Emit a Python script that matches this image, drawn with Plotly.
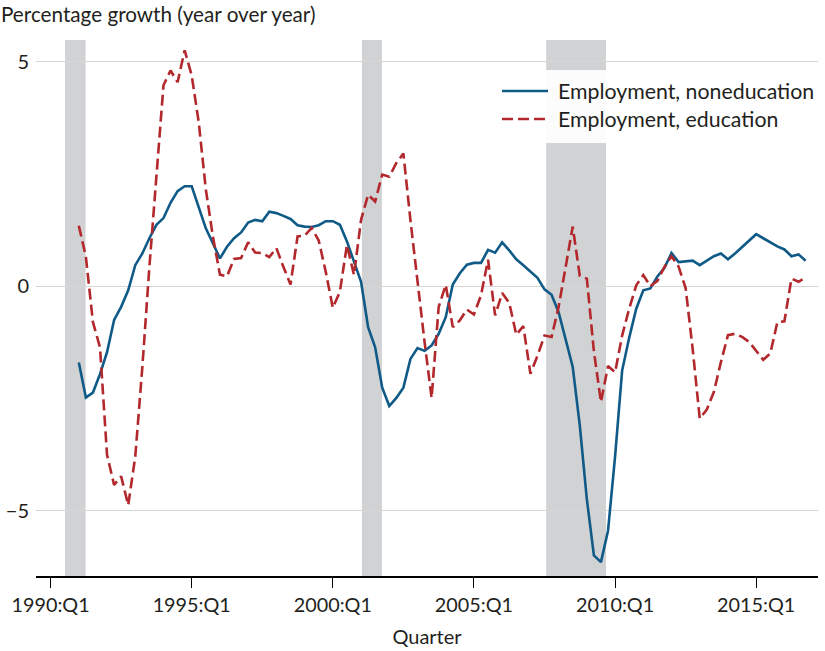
import plotly.graph_objects as go

# Quarters 1991:Q1 .. 2016:Q4
start_year = 1991
n_quarters = 104
quarter_labels = [f"{start_year + k // 4}:Q{k % 4 + 1}" for k in range(n_quarters)]

noneducation = [
    -1.70, -2.48, -2.37, -1.96, -1.47, -0.75, -0.46, -0.09,
    0.47, 0.73, 1.07, 1.37, 1.52, 1.86, 2.12, 2.23,
    2.23, 1.78, 1.29, 0.96, 0.62, 0.88, 1.07, 1.20,
    1.42, 1.48, 1.45, 1.66, 1.63, 1.57, 1.50, 1.36,
    1.33, 1.32, 1.36, 1.45, 1.45, 1.37, 1.00, 0.55,
    0.10, -0.91, -1.36, -2.26, -2.67, -2.49, -2.26, -1.62,
    -1.38, -1.44, -1.32, -1.06, -0.69, 0.04, 0.29, 0.48,
    0.52, 0.52, 0.81, 0.75, 0.98, 0.80, 0.60, 0.47,
    0.33, 0.19, -0.07, -0.19, -0.58, -1.20, -1.80, -3.10,
    -4.75, -6.00, -6.15, -5.45, -3.80, -1.88, -1.15, -0.50,
    -0.09, -0.05, 0.22, 0.41, 0.74, 0.54, 0.56, 0.57,
    0.47, 0.58, 0.67, 0.73, 0.60, 0.73, 0.88, 1.03,
    1.16, 1.07, 0.98, 0.89, 0.82, 0.67, 0.71, 0.57,
]

education = [
    1.35, 0.66, -0.80, -1.36, -3.76, -4.43, -4.24, -4.88,
    -3.80, -1.81, 0.43, 2.38, 4.48, 4.81, 4.55, 5.26,
    4.70, 3.65, 2.16, 1.11, 0.26, 0.22, 0.61, 0.63,
    0.98, 0.75, 0.74, 0.65, 0.85, 0.43, 0.04, 1.11,
    1.13, 1.30, 1.02, 0.32, -0.48, -0.12, 0.92, 0.25,
    1.48, 2.04, 1.89, 2.49, 2.44, 2.75, 2.96, 1.47,
    0.08, -1.24, -2.49, -0.46, 0.03, -0.91, -0.76, -0.52,
    -0.63, -0.20, 0.59, -0.65, -0.15, -0.37, -1.08, -0.89,
    -1.95, -1.55, -1.10, -1.13, -0.46, 0.43, 1.33, 0.23,
    0.17, -1.45, -2.58, -1.78, -1.92, -1.10, -0.50, 0.02,
    0.25, 0.00, 0.12, 0.43, 0.67, 0.44, -0.04, -1.40,
    -2.95, -2.75, -2.36, -1.69, -1.09, -1.06, -1.13, -1.24,
    -1.43, -1.64, -1.50, -0.80, -0.78, 0.17, 0.10, 0.19,
]

recessions = [(1990.51, 1991.24), (2001.03, 2001.74), (2007.56, 2009.68)]
tick_years = [1990, 1995, 2000, 2005, 2010, 2015]
tick_labels = [f"{y}:Q1" for y in tick_years]
series_names = ["Employment, noneducation", "Employment, education"]

BLUE = "#0f5a87"
RED = "#b3282d"
FONT = "Lato"
TXT = "#231f20"
DASH = "11px,5px"


def qpos(label):
    y, q = label.split(":Q")
    return int(y) + (int(q) - 1) / 4


x = [qpos(q) for q in quarter_labels]

fig = go.Figure()
fig.add_trace(go.Scatter(x=x, y=noneducation, mode="lines", name=series_names[0],
                         line=dict(color=BLUE, width=2.6), showlegend=False, hoverinfo="skip"))
fig.add_trace(go.Scatter(x=x, y=education, mode="lines", name=series_names[1],
                         line=dict(color=RED, width=2.6, dash=DASH), showlegend=False, hoverinfo="skip"))

shapes = []
for a, b in recessions:
    shapes.append(dict(type="rect", xref="x", yref="paper", x0=a, x1=b, y0=0, y1=1,
                       fillcolor="#d1d2d4", line=dict(width=0), layer="between"))

# legend box and samples
W, H = 825, 651
ml, mr, mt, mb = 36, 7, 40, 75
pw, ph = W - ml - mr, H - mt - mb


def px_x(px):
    return (px - ml) / pw


def px_y(py):
    return 1 - (py - mt) / ph


shapes.append(dict(type="rect", xref="paper", yref="paper", x0=px_x(494), x1=px_x(822),
                   y0=px_y(143), y1=px_y(70), fillcolor="rgba(255,255,255,0.92)",
                   line=dict(width=0), layer="between"))
annotations = []
for i, (nm, col, dash) in enumerate([(series_names[0], BLUE, "solid"), (series_names[1], RED, DASH)]):
    yy = 91 + i * 28
    shapes.append(dict(type="line", xref="paper", yref="paper", x0=px_x(502), x1=px_x(548),
                       y0=px_y(yy), y1=px_y(yy), line=dict(color=col, width=2.6, dash=dash), layer="above"))
    annotations.append(dict(xref="paper", yref="paper", x=px_x(556), y=px_y(yy), text=nm,
                            showarrow=False, xanchor="left", yanchor="middle",
                            font=dict(family=FONT, size=21.3, color=TXT)))

fig.update_layout(
    width=W, height=H,
    margin=dict(l=ml, r=mr, t=mt, b=mb, autoexpand=False),
    paper_bgcolor="white", plot_bgcolor="white",
    shapes=shapes, annotations=annotations,
    title=dict(text="Percentage growth (year over year)", x=1 / W, xanchor="left",
               y=1 - 15 / H, yanchor="middle", xref="container", yref="container",
               font=dict(family=FONT, size=20.7, color=TXT)),
    font=dict(family=FONT, size=20, color=TXT),
)
fig.update_xaxes(range=[1989.483, 2017.19], tickvals=tick_years, ticktext=tick_labels,
                 showgrid=False, zeroline=False, showline=True, linecolor="black", linewidth=1.6,
                 ticks="outside", ticklen=10, tickwidth=1.3, tickcolor="black", automargin=False,
                 tickfont=dict(family=FONT, size=19.8, color=TXT),
                 title=dict(text="Quarter", standoff=15, font=dict(family=FONT, size=20, color=TXT)))
fig.update_yaxes(range=[-6.46, 5.49], tickvals=[-5, 0, 5], showgrid=True, gridcolor="#d6d6d6",
                 gridwidth=1, zeroline=False, showline=False, ticks="", ticklabelstandoff=6,
                 automargin=False, tickfont=dict(family=FONT, size=20, color=TXT))

fig.write_html("out.html", config={"displayModeBar": False},
               post_script="document.body.style.margin='0px';")
